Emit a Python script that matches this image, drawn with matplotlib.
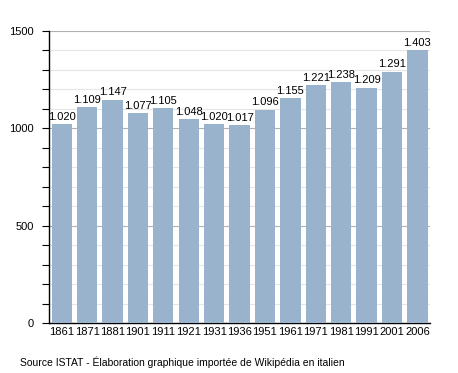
import matplotlib
matplotlib.use('Agg')
import matplotlib.pyplot as plt
from matplotlib.ticker import MultipleLocator

years = ["1861", "1871", "1881", "1901", "1911", "1921", "1931", "1936",
         "1951", "1961", "1971", "1981", "1991", "2001", "2006"]
population = [1020, 1109, 1147, 1077, 1105, 1048, 1020, 1017,
              1096, 1155, 1221, 1238, 1209, 1291, 1403]
value_labels = ["1.020", "1.109", "1.147", "1.077", "1.105", "1.048", "1.020", "1.017",
                "1.096", "1.155", "1.221", "1.238", "1.209", "1.291", "1.403"]

plt.rcParams['font.family'] = ['Liberation Sans', 'DejaVu Sans']

fig = plt.figure(figsize=(4.58, 3.73), dpi=100)
ax = fig.add_axes([0.107, 0.134, 0.832, 0.783])

x = range(len(years))
ax.bar(x, population, width=0.8, color='#9ab3cc', zorder=3)
for i, (v, lab) in enumerate(zip(population, value_labels)):
    ax.text(i, v + 12, lab, ha='center', va='bottom', fontsize=8, zorder=4)

ax.set_xlim(-0.5, len(years) - 0.5)
ax.set_ylim(0, 1500)
ax.set_xticks(list(x))
ax.set_xticklabels(years, fontsize=8)
ax.tick_params(axis='x', length=0, pad=3)
ax.yaxis.set_major_locator(MultipleLocator(500))
ax.yaxis.set_minor_locator(MultipleLocator(100))
ax.tick_params(axis='y', which='both', length=5, width=0.8, labelsize=8, pad=6)
# light minor grid, darker major grid (major one shows in the gaps)
ax.grid(axis='y', which='minor', color='#e6e6e6', linewidth=0.8, zorder=0)
ax.grid(axis='y', which='major', color='#b0b0b0', linewidth=0.8, zorder=0)

for s in ['top', 'right']:
    ax.spines[s].set_visible(False)
ax.spines['left'].set_linewidth(1)
ax.spines['bottom'].set_linewidth(1)

fig.text(0.044, 0.03, "Source ISTAT - Élaboration graphique importée de Wikipédia en italien",
         fontsize=7.5, ha='left', va='center')

plt.savefig("out.png", dpi=100)
